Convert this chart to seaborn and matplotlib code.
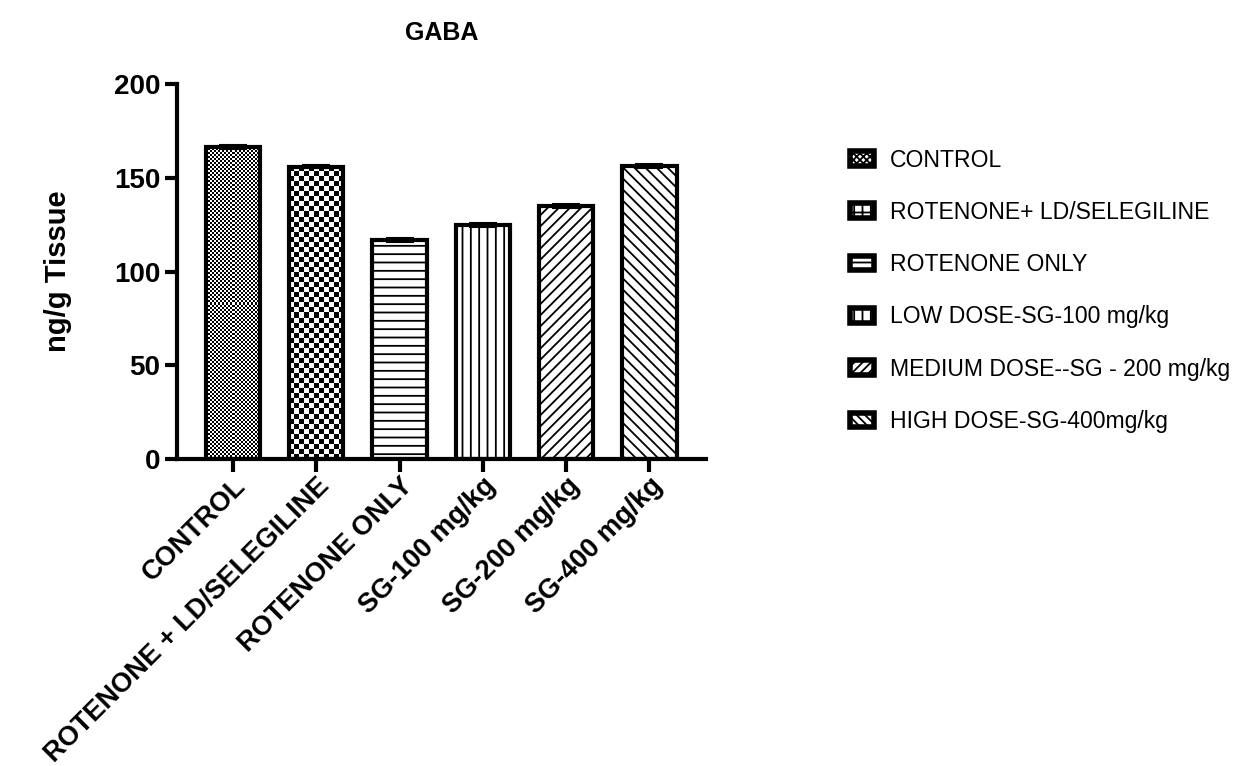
import numpy as np
import pandas as pd
import matplotlib
matplotlib.use("Agg")
import matplotlib.pyplot as plt
from matplotlib.patches import Patch
import seaborn as sns

# GABA levels per treatment group (ng/g tissue), mean and SEM
groups = ["CONTROL", "ROTENONE + LD/SELEGILINE", "ROTENONE ONLY",
          "SG-100 mg/kg", "SG-200 mg/kg", "SG-400 mg/kg"]
gaba_mean = [166.5, 156.0, 117.0, 125.0, 135.0, 156.5]
gaba_sem = [1.0, 1.0, 1.0, 1.0, 1.0, 1.0]
legend_labels = ["CONTROL", "ROTENONE+ LD/SELEGILINE", "ROTENONE ONLY",
                 "LOW DOSE-SG-100 mg/kg", "MEDIUM DOSE--SG - 200 mg/kg",
                 "HIGH DOSE-SG-400mg/kg"]
y_ticks = [0, 50, 100, 150, 200]

sns.set_theme(style="ticks")
plt.rcParams["font.family"] = ["Liberation Sans", "DejaVu Sans"]
plt.rcParams.update({
    "text.color": "black", "axes.labelcolor": "black",
    "xtick.color": "black", "ytick.color": "black",
    "hatch.linewidth": 1.3,
})

df = pd.DataFrame({"group": groups, "gaba": gaba_mean})

fig = plt.figure(figsize=(12.39, 7.66), dpi=100)
ax = fig.add_axes([0.1429, 0.4008, 0.4270, 0.4894])

sns.barplot(data=df, x="group", y="gaba", color="white", edgecolor="black",
            linewidth=3, width=0.65, errorbar=None, saturation=1, ax=ax)

ax.set_xlim(-0.67, 5.68)
ax.set_ylim(0, 200)

# error bars on top of each bar
ax.errorbar(np.arange(len(groups)), gaba_mean, yerr=gaba_sem, fmt="none",
            ecolor="black", elinewidth=1.5, capsize=10, capthick=1.5, zorder=3)

# fill patterns: checkerboards for the first two groups, hatches for the rest
hatches = [None, None, "--", "||", "///", "\\\\\\"]
checker_px = [2, 5]
bars = ax.patches[:len(groups)]
for i, bar in enumerate(bars):
    if hatches[i] is not None:
        bar.set_hatch(hatches[i])
        continue
    bar.set_facecolor((1, 1, 1, 0))
    x0, w, h = bar.get_x(), bar.get_width(), bar.get_height()
    p0 = ax.transData.transform((x0, 0))
    p1 = ax.transData.transform((x0 + w, h))
    nx = max(1, int(round((p1[0] - p0[0]) / checker_px[i])))
    ny = max(1, int(round((p1[1] - p0[1]) / checker_px[i])))
    yy, xx = np.indices((ny, nx))
    board = (xx + yy) % 2
    im = ax.imshow(board, cmap="gray", vmin=0, vmax=1, extent=(x0, x0 + w, 0, h),
                   aspect="auto", interpolation="nearest", zorder=0.5)
    im.set_clip_path(bar)

ax.set_xlim(-0.67, 5.68)
ax.set_ylim(0, 200)

sns.despine(ax=ax)
for s in ("left", "bottom"):
    ax.spines[s].set_linewidth(3)
    ax.spines[s].set_color("black")

ax.set_yticks(y_ticks)
ax.tick_params(axis="both", length=9, width=3, color="black",
               labelsize=20, pad=3)
ax.tick_params(axis="x", pad=1)
for lab in ax.get_yticklabels():
    lab.set_fontweight("bold")
ax.set_xticks(range(len(groups)))
ax.set_xticklabels(groups, rotation=45, ha="right", rotation_mode="anchor",
                   fontweight="bold", fontsize=19.5)

ax.set_xlabel("")
ax.set_ylabel("ng/g Tissue", fontsize=21, fontweight="bold", labelpad=30)
ax.set_title("GABA", fontsize=18, fontweight="bold", pad=32)

# legend with pattern swatches
legend_hatch = ["xxxxx", "++", "--", "||", "////", "\\\\\\\\"]
handles = [Patch(facecolor="white", edgecolor="black", linewidth=4, hatch=hh)
           for hh in legend_hatch]
fig.legend(handles, legend_labels, loc="upper left",
           bbox_to_anchor=(0.6785, 0.818), frameon=False, fontsize=16.6,
           handlelength=1.05, handleheight=0.6, handletextpad=0.7,
           labelspacing=1.27, borderaxespad=0)

fig.savefig("out.png", dpi=100)
